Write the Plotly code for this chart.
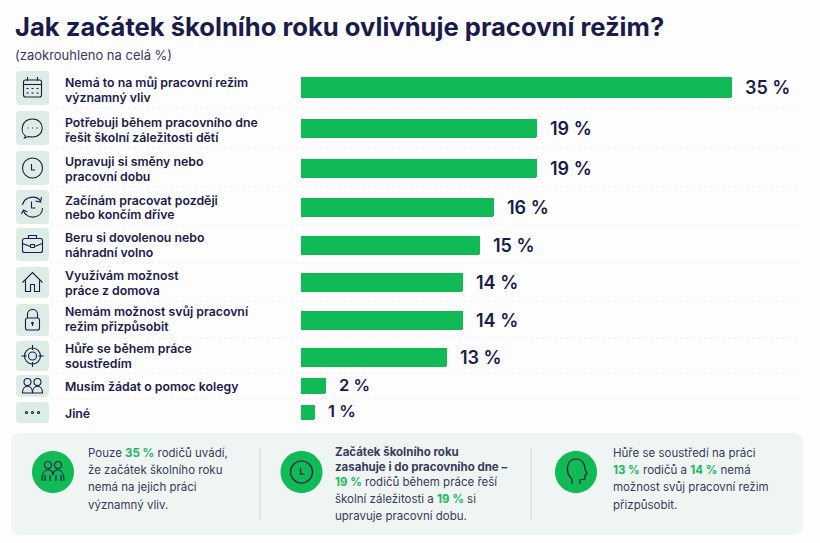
import plotly.graph_objects as go

# labels, one string per row (<br> = line break)
categories = [
    "Nemá to na můj pracovní režim<br>významný vliv",
    "Potřebuji během pracovního dne<br>řešit školní záležitosti dětí",
    "Upravuji si směny nebo<br>pracovní dobu",
    "Začínám pracovat později<br>nebo končím dříve",
    "Beru si dovolenou nebo<br>náhradní volno",
    "Využívám možnost<br>práce z domova",
    "Nemám možnost svůj pracovní<br>režim přizpůsobit",
    "Hůře se během práce<br>soustředím",
    "Musím žádat o pomoc kolegy",
    "Jiné",
]
# bars are drawn unrounded, the labels are rounded (see the subtitle)
values = [35, 19.2, 19.2, 15.7, 14.5, 13.2, 13.2, 11.9, 2.0, 1.1]
value_labels = ["35 %", "19 %", "19 %", "16 %", "15 %", "14 %", "14 %", "13 %", "2 %", "1 %"]

title = "Jak začátek školního roku ovlivňuje pracovní režim?"
subtitle = "(zaokrouhleno na celá %)"

NAVY = "#1b1b4b"
GREEN = "#10bb55"
TILE = "#dcede5"
PANEL = "#eef5f2"
TEXT = "#3a3a5c"
FONT = "Inter"

W, H = 820, 543
PX_PER_PCT = 12.31
BAR_X0 = 301

# row geometry in page pixels: bar centre, bar thickness, tile top, tile bottom, separator
row_y = [87, 128, 168, 207, 245, 282, 320, 357, 386, 412]
row_thick = [21, 19, 19, 19, 19, 19, 19, 19, 16, 15]
tile_top = [71, 111, 151, 190, 228, 267, 304, 341, 375, 402]
tile_bot = [105, 145, 185, 224, 261, 298, 336, 371, 397, 423]
sep_y = [108, 148, 187, 225, 263, 301, 338, 373, 399]
label_y = [(82, 97), (122, 137), (161, 176), (200, 214), (237, 252),
           (275, 290), (311, 326), (348, 363), (386,), (413,)]


def round_rect(x0, y0, x1, y1, r):
    return (f"M{x0+r},{y0} L{x1-r},{y0} Q{x1},{y0} {x1},{y0+r} L{x1},{y1-r} Q{x1},{y1} {x1-r},{y1} "
            f"L{x0+r},{y1} Q{x0},{y1} {x0},{y1-r} L{x0},{y0+r} Q{x0},{y0} {x0+r},{y0} Z")


def circle(cx, cy, r):
    k = 0.552 * r
    return (f"M{cx-r},{cy} C{cx-r},{cy-k} {cx-k},{cy-r} {cx},{cy-r} C{cx+k},{cy-r} {cx+r},{cy-k} {cx+r},{cy} "
            f"C{cx+r},{cy+k} {cx+k},{cy+r} {cx},{cy+r} C{cx-k},{cy+r} {cx-r},{cy+k} {cx-r},{cy} Z")


def calendar(x, y):
    p = [round_rect(x-9, y-8, x+9, y+9, 2), f"M{x-9},{y-3.5} L{x+9},{y-3.5}",
         f"M{x-5},{y-11} L{x-5},{y-7}", f"M{x+5},{y-11} L{x+5},{y-7}"]
    for dx in (-5, 0, 5):
        for dy in (0.5, 5):
            p.append(f"M{dx+x-1},{y+dy} L{dx+x+1},{y+dy}")
    return p


def chat(x, y):
    return [f"M{x-7},{y+8} C{x-13},{y+4} {x-11},{y-9} {x},{y-9} C{x+13},{y-9} {x+13},{y+9} {x},{y+9} "
            f"C{x-2},{y+9} {x-3},{y+9} {x-4},{y+8.5} L{x-8},{y+10} Z",
            f"M{x-5},{y} L{x-4},{y}", f"M{x-.5},{y} L{x+.5},{y}", f"M{x+4},{y} L{x+5},{y}"]


def clock(x, y, r=10):
    return [circle(x, y, r), f"M{x-1},{y-r*.4} L{x-1},{y+r*.2} L{x+r*.25},{y+r*.2}"]


def clock_back(x, y):
    k = 5.5
    return [f"M{x+8},{y-6} C{x+4},{y-12} {x-8},{y-11} {x-10},{y-2}",
            f"M{x+10},{y+1} C{x+10},{y+12} {x-6},{y+13} {x-9},{y+4}",
            f"M{x+9},{y-10} L{x+8},{y-5} L{x+3},{y-6}", f"M{x-11},{y+7} L{x-9},{y+3} L{x-5},{y+5}",
            f"M{x-1},{y-k} L{x-1},{y+1} L{x+3},{y+1}"]


def briefcase(x, y):
    return [round_rect(x-10, y-6, x+10, y+8, 2), f"M{x-4},{y-6} L{x-4},{y-9} L{x+4},{y-9} L{x+4},{y-6}",
            f"M{x-10},{y-1} L{x-2},{y+2}", f"M{x+10},{y-1} L{x+2},{y+2}", round_rect(x-2, y, x+2, y+3, .5)]


def house(x, y):
    return [f"M{x-10},{y} L{x},{y-10} L{x+10},{y} M{x-7},{y-2} L{x-7},{y+9} L{x-2},{y+9} L{x-2},{y+2} "
            f"L{x+2},{y+2} L{x+2},{y+9} L{x+7},{y+9} L{x+7},{y-2}"]


def lock(x, y):
    return [round_rect(x-7, y-2, x+7, y+10, 2), f"M{x-5},{y-2} L{x-5},{y-6} C{x-5},{y-12} {x+5},{y-12} {x+5},{y-6} L{x+5},{y-2}",
            circle(x, y+3, .8), f"M{x},{y+3} L{x},{y+6}"]


def target(x, y):
    return [circle(x, y, 8), circle(x, y, 4), f"M{x},{y-11} L{x},{y-6}", f"M{x},{y+6} L{x},{y+11}",
            f"M{x-11},{y} L{x-6},{y}", f"M{x+6},{y} L{x+11},{y}"]


def people(x, y):
    return [circle(x-5, y-4, 3.5), circle(x+5, y-4, 3.5),
            f"M{x-10},{y+7} C{x-10},{y-2} {x},{y-2} {x},{y+7} Z", f"M{x},{y+7} C{x},{y-2} {x+10},{y-2} {x+10},{y+7} L{x},{y+7}"]


def dots(x, y):
    return [circle(x-6, y, 1), circle(x, y, 1), circle(x+6, y, 1)]


def couple(x, y):
    return [circle(x-5, y-7, 3.5), circle(x+5, y-7, 3.5),
            f"M{x-11},{y+9} C{x-11},{y-1} {x-8},{y-2} {x-5},{y-2} C{x-2},{y-2} {x},{y} {x},{y+3}",
            f"M{x+11},{y+9} C{x+11},{y-1} {x+8},{y-2} {x+5},{y-2} C{x+2},{y-2} {x},{y} {x},{y+3}",
            f"M{x-3},{y+9} L{x-3},{y+3}", f"M{x+3},{y+9} L{x+3},{y+3}", f"M{x-8},{y+9} L{x-8},{y+3}", f"M{x+8},{y+9} L{x+8},{y+3}"]


def head(x, y):
    return [f"M{x-4},{y+12} L{x-4},{y+7} C{x-11},{y+1} {x-10},{y-13} {x},{y-13} C{x+8},{y-13} {x+9},{y-5} {x+9},{y-3} "
            f"L{x+11},{y+2} L{x+9},{y+3} L{x+9},{y+7} L{x+4},{y+8} L{x+4},{y+12}"]


row_icons = [calendar, chat, clock, clock_back, briefcase, house, lock, target, people, dots]

fig = go.Figure()
fig.add_trace(go.Bar(
    x=values, y=row_y, width=row_thick, orientation="h",
    marker=dict(color=GREEN, line_width=0, cornerradius=2),
    hoverinfo="skip", showlegend=False,
))

shapes = []
annotations = []


def add_path(path, **kw):
    shapes.append(dict(type="path", path=path, xref="x2", yref="y2", **kw))


def add_text(x, y, text, size=11, color=TEXT, weight=400):
    # annotations have about 2px of padding on the left
    annotations.append(dict(x=x, y=y, text=text, xref="x2", yref="y2", xanchor="left", yanchor="middle",
                            xshift=-2, showarrow=False, align="left",
                            font=dict(family=FONT, size=size, color=color, weight=weight)))


add_text(15, 26.5, title, size=25.6, color=NAVY, weight=700)
add_text(15, 55, subtitle, size=13)

# rows
for i, cat in enumerate(categories):
    add_path(round_rect(16, tile_top[i], 49, tile_bot[i], 4), fillcolor=TILE, line_width=0, layer="below")
    for p in row_icons[i](32.5, (tile_top[i] + tile_bot[i]) / 2):
        add_path(p, line=dict(color=NAVY, width=1.1))
    for line, y in zip(cat.split("<br>"), label_y[i]):
        add_text(65, y, line, size=12.3, color=NAVY, weight=600)
    annotations.append(dict(x=values[i], y=row_y[i] - (1 if i > 7 else 0), text=value_labels[i], xref="x", yref="y2",
                            xanchor="left", yanchor="middle", xshift=11, showarrow=False,
                            font=dict(family=FONT, size=18 if i < 8 else 16.5, color=NAVY, weight=600)))

for y in sep_y:
    shapes.append(dict(type="line", x0=50, x1=797, y0=y, y1=y, xref="x2", yref="y2", layer="below",
                       line=dict(color="#eceeed", width=1, dash="dot")))

# bottom panel
add_path(round_rect(11, 433, 803, 535, 10), fillcolor=PANEL, line_width=0, layer="below")
for x in (260, 531):
    shapes.append(dict(type="line", x0=x, x1=x, y0=448, y1=520, xref="x2", yref="y2",
                       line=dict(color="#c5ddd2", width=1)))

G = '<span style="color:#22b860"><b>%s</b></span>'
panel_cols = [
    (53, couple, 88, [(453, "Pouze " + G % "35 %" + " rodičů uvádí,"), (470, "že začátek školního roku"),
                      (487, "nemá na jejich práci"), (505, "významný vliv.")]),
    (301.5, clock, 335, [(452, "<b>Začátek školního roku</b>"), (467, "<b>zasahuje i do pracovního dne –</b>"),
                         (482, G % "19 %" + " rodičů během práce řeší"), (499, "školní záležitosti a " + G % "19 %" + " si"),
                         (516, "upravuje pracovní dobu.")]),
    (576, head, 613, [(453, "Hůře se soustředí na práci"), (470, G % "13 %" + " rodičů a " + G % "14 %" + " nemá"),
                      (487, "možnost svůj pracovní režim"), (505, "přizpůsobit.")]),
]
for cx, icon, tx, lines in panel_cols:
    add_path(circle(cx, 472, 21), fillcolor=GREEN, line_width=0)
    for p in (icon(cx, 472, 11) if icon is clock else icon(cx, 472)):
        add_path(p, line=dict(color=NAVY, width=1.2))
    for y, line in lines:
        add_text(tx, y, line, size=11.5)

fig.update_layout(
    width=W, height=H, margin=dict(l=0, r=0, t=0, b=0),
    paper_bgcolor="#fdfdfd", plot_bgcolor="rgba(0,0,0,0)",
    shapes=shapes, annotations=annotations, bargap=0,
    xaxis=dict(domain=[BAR_X0 / W, 1], range=[0, (W - BAR_X0) / PX_PER_PCT], visible=False, fixedrange=True),
    yaxis=dict(domain=[0, 1], range=[H, 0], visible=False, fixedrange=True),
    xaxis2=dict(domain=[0, 1], range=[0, W], visible=False, anchor="y2", fixedrange=True),
    yaxis2=dict(domain=[0, 1], range=[H, 0], visible=False, anchor="x2", fixedrange=True),
)
fig.write_html("out.html", config=dict(displayModeBar=False), post_script="document.body.style.margin='0';")
